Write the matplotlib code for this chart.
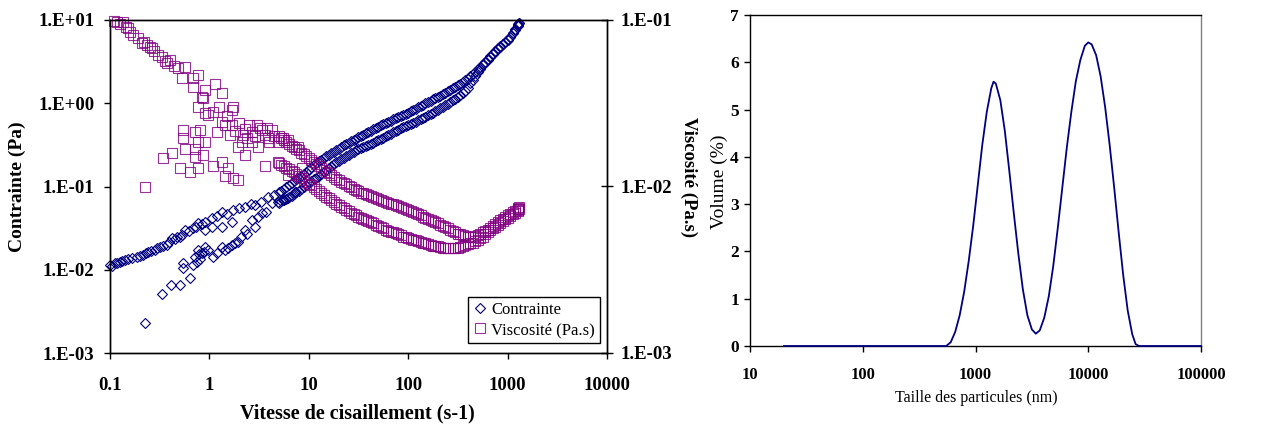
import numpy as np
import matplotlib
matplotlib.use('Agg')
import matplotlib.pyplot as plt
from matplotlib.ticker import FixedLocator, FixedFormatter, NullLocator

plt.rcParams['font.family'] = ['Liberation Serif', 'DejaVu Serif']

# ---- left chart: rheology ----
# dense part of the two sweeps (rate in s-1), read on two staggered rate grids
band_rate = [5.0, 5.6, 6.3, 7.1, 7.9, 8.9, 10, 11.2, 12.6, 14.1, 15.8, 17.8, 20, 22.4, 25.1,
             28.2, 31.6, 35.5, 39.8, 44.7, 50.1, 56.2, 63.1, 70.8, 79.4, 89.1, 100, 112, 126,
             141, 158, 178, 200, 224, 251, 282, 316, 355, 398, 447, 501, 562, 631, 708, 794,
             891, 1000, 1122, 1259, 1300]
stress_up = [0.085, 0.094, 0.104, 0.116, 0.128, 0.143, 0.160, 0.180, 0.200, 0.220, 0.242, 0.263,
             0.285, 0.312, 0.336, 0.362, 0.39, 0.42, 0.45, 0.485, 0.525, 0.56, 0.60, 0.64, 0.685,
             0.73, 0.77, 0.83, 0.89, 0.96, 1.03, 1.11, 1.19, 1.28, 1.39, 1.51, 1.65, 1.80, 1.98,
             2.22, 2.55, 2.95, 3.40, 3.95, 4.55, 5.1, 5.8, 6.9, 8.6, 9.3]
stress_down = [0.064, 0.069, 0.074, 0.081, 0.089, 0.099, 0.11, 0.122, 0.135, 0.148, 0.165, 0.185,
               0.201, 0.223, 0.242, 0.261, 0.280, 0.299, 0.318, 0.337, 0.359, 0.385, 0.413, 0.447,
               0.480, 0.518, 0.546, 0.580, 0.622, 0.665, 0.713, 0.770, 0.836, 0.903, 0.988, 1.083,
               1.197, 1.31, 1.52, 1.90, 2.35, 2.85, 3.35, 3.90, 4.50, 5.1, 5.8, 6.9, 8.5, 9.2]
visc_up = [0.0200, 0.0190, 0.0180, 0.0172, 0.0165, 0.0156, 0.0148, 0.0140, 0.0133, 0.0126, 0.0120,
           0.0114, 0.0109, 0.0105, 0.0101, 0.0097, 0.0094, 0.0091, 0.0089, 0.0086, 0.0084, 0.0082,
           0.0080, 0.0078, 0.0076, 0.0074, 0.0072, 0.0070, 0.0068, 0.0066, 0.0064, 0.0062, 0.0060,
           0.0058, 0.0056, 0.0054, 0.0052, 0.0051, 0.0050, 0.0050, 0.0051, 0.0053, 0.0055, 0.0058,
           0.0061, 0.0064, 0.0067, 0.0070, 0.0073, 0.0075]
visc_down = [0.0138, 0.0132, 0.0127, 0.0122, 0.0116, 0.0110, 0.0104, 0.0099, 0.0094, 0.0089, 0.0085,
             0.0081, 0.0077, 0.0074, 0.0071, 0.0068, 0.0066, 0.0064, 0.0062, 0.0060, 0.0058, 0.0056,
             0.0054, 0.0053, 0.0052, 0.0050, 0.0049, 0.0048, 0.0047, 0.0046, 0.0045, 0.0044, 0.0044,
             0.0043, 0.0043, 0.0043, 0.0043, 0.0044, 0.0045, 0.0046, 0.0048, 0.0050, 0.0053, 0.0056,
             0.0059, 0.0062, 0.0065, 0.0068, 0.0071, 0.0073]

band_rate_b = [5.3, 5.95, 6.7, 7.5, 8.4, 9.4, 10.6, 11.9, 13.3, 14.9, 16.8, 18.9, 21.2, 23.7, 26.6,
               29.9, 33.5, 37.6, 42.2, 47.3, 53.1, 59.6, 66.8, 75.0, 84.1, 94.4, 106, 119, 133,
               149, 168, 188, 211, 237, 266, 299, 335, 376, 422, 473, 531, 596, 668, 750, 841,
               944, 1059, 1189, 1280]
stress_up_b = [0.089, 0.099, 0.110, 0.122, 0.135, 0.151, 0.170, 0.190, 0.210, 0.231, 0.252, 0.274,
               0.298, 0.324, 0.349, 0.376, 0.405, 0.435, 0.467, 0.505, 0.542, 0.58, 0.62, 0.662,
               0.707, 0.75, 0.80, 0.86, 0.925, 0.995, 1.07, 1.15, 1.235, 1.335, 1.45, 1.58, 1.72,
               1.89, 2.10, 2.38, 2.74, 3.17, 3.66, 4.24, 4.82, 5.44, 6.33, 7.7, 8.95]
stress_down_b = [0.0665, 0.0715, 0.0775, 0.085, 0.094, 0.104, 0.116, 0.128, 0.141, 0.156, 0.175,
                 0.198, 0.212, 0.233, 0.252, 0.271, 0.290, 0.309, 0.328, 0.348, 0.371, 0.399, 0.429,
                 0.463, 0.499, 0.532, 0.562, 0.600, 0.643, 0.689, 0.741, 0.803, 0.869, 0.945, 1.036,
                 1.14, 1.254, 1.42, 1.73, 2.11, 2.59, 3.09, 3.62, 4.19, 4.79, 5.44, 6.33, 7.66, 8.85]
visc_up_b = [0.0195, 0.0185, 0.0176, 0.0168, 0.0160, 0.0152, 0.0144, 0.0136, 0.0129, 0.0123, 0.0117,
             0.0111, 0.0107, 0.0103, 0.0099, 0.0095, 0.0092, 0.0090, 0.00875, 0.0085, 0.0083,
             0.0081, 0.0079, 0.0077, 0.0075, 0.0073, 0.0071, 0.0069, 0.0067, 0.0065, 0.0063,
             0.0061, 0.0059, 0.0057, 0.0055, 0.0053, 0.00515, 0.00505, 0.0050, 0.00505, 0.0052,
             0.0054, 0.00565, 0.00595, 0.00625, 0.00655, 0.00685, 0.00715, 0.0074]
visc_down_b = [0.0135, 0.01295, 0.01245, 0.0119, 0.0113, 0.0107, 0.01015, 0.00965, 0.00915, 0.0087,
               0.0083, 0.0079, 0.00755, 0.00725, 0.00695, 0.0067, 0.0065, 0.0063, 0.0061, 0.0059,
               0.0057, 0.0055, 0.00535, 0.00525, 0.0051, 0.00495, 0.00485, 0.00475, 0.00465,
               0.00455, 0.00445, 0.0044, 0.00435, 0.0043, 0.0043, 0.0043, 0.00435, 0.00445,
               0.00455, 0.0047, 0.0049, 0.00515, 0.00545, 0.00575, 0.00605, 0.00635, 0.00665,
               0.00695, 0.0072]

# noisy low-rate part
stress_trail_rate = [0.100, 0.105, 0.112, 0.118, 0.126, 0.133, 0.141, 0.152, 0.166, 0.186, 0.200,
                     0.216, 0.230, 0.243, 0.260, 0.284, 0.300, 0.318, 0.340, 0.371, 0.390, 0.417,
                     0.450, 0.470, 0.506, 0.530, 0.569, 0.620, 0.689, 0.730, 0.773, 0.850, 0.903,
                     1.05, 1.20, 1.33, 1.50, 1.74, 2.00, 2.30, 2.60, 2.88, 3.30, 3.92, 4.50]
stress_trail = [0.0114, 0.0112, 0.0119, 0.0121, 0.0125, 0.0128, 0.0131, 0.0134, 0.0137, 0.0144,
                0.0146, 0.0150, 0.0158, 0.0165, 0.0168, 0.0173, 0.0180, 0.0189, 0.0195, 0.0198,
                0.0215, 0.0238, 0.0232, 0.0250, 0.0249, 0.0265, 0.0300, 0.0290, 0.0314, 0.0330,
                0.0360, 0.0350, 0.0378, 0.0414, 0.0440, 0.0498, 0.0470, 0.0520, 0.0550, 0.0570,
                0.0620, 0.0600, 0.0660, 0.0755, 0.0800]
stress_scat_rate = [0.225, 0.336, 0.411, 0.506, 0.638, 0.545, 0.545, 0.689, 0.716, 0.773, 0.835,
                    0.903, 0.975, 1.09, 1.33, 1.44, 1.68, 1.95, 0.903, 1.05, 1.33, 1.68, 2.28, 2.66,
                    3.36, 4.24, 4.93, 6.22, 7.26, 0.75, 0.80, 0.78, 0.88, 1.20, 1.55, 1.80, 2.10,
                    2.40, 2.90, 3.10, 3.70, 5.50]
stress_scat = [0.00228, 0.00512, 0.00656, 0.00656, 0.0079, 0.0104, 0.0119, 0.0114, 0.0144, 0.0173,
               0.0157, 0.0189, 0.0173, 0.0144, 0.0189, 0.0173, 0.0198, 0.0217, 0.030, 0.0329,
               0.0329, 0.0378, 0.030, 0.0396, 0.0475, 0.0626, 0.0656, 0.072, 0.0865, 0.0125,
               0.0135, 0.0155, 0.0165, 0.016, 0.0185, 0.021, 0.025, 0.027, 0.033, 0.043, 0.05, 0.068]

visc_trail_rate = [0.110, 0.117, 0.125, 0.136, 0.145, 0.153, 0.160, 0.172, 0.190, 0.208, 0.220,
                   0.234, 0.250, 0.263, 0.280, 0.306, 0.330, 0.360, 0.371, 0.402, 0.440, 0.487,
                   0.526, 0.569, 0.689, 0.689, 0.773, 0.869, 0.903, 1.14, 1.33, 0.773, 1.74, 1.68]
visc_trail = [0.098, 0.097, 0.094, 0.0977, 0.091, 0.089, 0.085, 0.081, 0.078, 0.0724, 0.074, 0.0708,
              0.069, 0.0676, 0.065, 0.0617, 0.060, 0.057, 0.055, 0.0575, 0.053, 0.0512, 0.0447,
              0.0525, 0.0447, 0.0398, 0.0468, 0.0339, 0.038, 0.041, 0.0363, 0.0302, 0.0302, 0.0288]
visc_mid_rate = [0.975, 0.903, 0.835, 1.09, 1.33, 1.44, 1.68, 1.62, 1.18, 2.66, 3.36, 4.24, 3.92,
                 4.93, 6.22, 7.83, 2.11, 2.66, 1.95, 3.09, 2.0, 2.3, 2.5, 2.9, 3.2, 3.6, 4.5, 5.5,
                 2.2, 1.8, 1.5, 1.25, 2.4, 3.0, 3.8, 4.0]
visc_mid = [0.0269, 0.0275, 0.0346, 0.0281, 0.0245, 0.0234, 0.0234, 0.0204, 0.0213, 0.0213, 0.0218,
            0.0218, 0.0195, 0.0186, 0.019, 0.0173, 0.0186, 0.0186, 0.0173, 0.0173, 0.024, 0.022,
            0.0235, 0.020, 0.0225, 0.0205, 0.020, 0.0195, 0.0205, 0.0215, 0.0265, 0.030, 0.0195,
            0.0235, 0.0225, 0.0185]
visc_low_rate = [0.225, 0.343, 0.417, 0.506, 0.638, 0.773, 1.09, 1.33, 1.55, 1.44, 1.74, 1.95,
                 0.545, 0.545, 0.716, 0.803, 0.773, 0.903, 0.569, 0.716, 0.869, 0.716, 2.28, 3.63,
                 4.93, 6.22, 8.47]
visc_low = [0.00989, 0.0148, 0.0158, 0.0129, 0.0123, 0.0129, 0.0132, 0.0141, 0.0129, 0.0115,
            0.0112, 0.0109, 0.0218, 0.0195, 0.0213, 0.0218, 0.0186, 0.0186, 0.0169, 0.0169,
            0.0155, 0.0151, 0.0155, 0.0132, 0.0141, 0.0117, 0.0129]

x_ticks_l = [0.1, 1, 10, 100, 1000, 10000]
x_labels_l = ['0.1', '1', '10', '100', '1000', '10000']
y_ticks_l = [1e-3, 1e-2, 1e-1, 1, 10]
y_labels_l = ['1.E-03', '1.E-02', '1.E-01', '1.E+00', '1.E+01']
y_ticks_r = [1e-3, 1e-2, 1e-1]
y_labels_r = ['1.E-03', '1.E-02', '1.E-01']

# ---- right chart: particle size distribution ----
size_nm = [20, 50, 100, 200, 300, 400, 500, 550, 603, 661, 724, 794, 871, 955, 1047, 1148, 1259,
           1380, 1445, 1514, 1660, 1820, 1995, 2188, 2399, 2630, 2884, 3162, 3428, 3715, 4074,
           4467, 4898, 5370, 5888, 6457, 7079, 7762, 8511, 9333, 10000, 10715, 11749, 12882,
           14125, 15488, 16982, 18621, 20417, 22387, 24547, 26303, 28184, 35000, 50000, 70000,
           100000]
volume = [0, 0, 0, 0, 0, 0, 0, 0.00, 0.08, 0.30, 0.65, 1.15, 1.80, 2.55, 3.40, 4.25, 4.95, 5.45,
          5.59, 5.55, 5.20, 4.55, 3.70, 2.80, 1.95, 1.20, 0.65, 0.35, 0.26, 0.33, 0.60, 1.05, 1.70,
          2.50, 3.35, 4.20, 4.95, 5.60, 6.05, 6.35, 6.42, 6.38, 6.15, 5.70, 5.05, 4.25, 3.35, 2.40,
          1.50, 0.75, 0.25, 0.04, 0.00, 0, 0, 0, 0]
x_ticks_r = [10, 100, 1000, 10000, 100000]
x_labels_r = ['10', '100', '1000', '10000', '100000']

navy = '#000080'
purple = '#800080'

fig = plt.figure(figsize=(12.75, 4.26), dpi=100)

ax = fig.add_axes([110/1275, 73/426, 497/1275, 333/426])
ax.set_xscale('log')
ax.set_yscale('log')
ax.set_xlim(0.1, 10000)
ax.set_ylim(1e-3, 10)

st_rate = stress_trail_rate + stress_scat_rate + band_rate + band_rate_b + band_rate + band_rate_b
st_val = stress_trail + stress_scat + stress_up + stress_up_b + stress_down + stress_down_b
h1, = ax.plot(st_rate, st_val, linestyle='none', marker='D', markersize=4.9,
              markerfacecolor='none', markeredgecolor=navy, markeredgewidth=0.8,
              clip_on=False, label='Contrainte')

ax2 = ax.twinx()
ax2.set_yscale('log')
ax2.set_ylim(1e-3, 1e-1)
vi_rate = visc_trail_rate + visc_mid_rate + visc_low_rate + band_rate + band_rate_b + band_rate + band_rate_b
vi_val = visc_trail + visc_mid + visc_low + visc_up + visc_up_b + visc_down + visc_down_b
h2, = ax2.plot(vi_rate, vi_val, linestyle='none', marker='s', markersize=7.0,
               markerfacecolor='none', markeredgecolor=purple, markeredgewidth=0.8,
               alpha=0.8, clip_on=False, label='Viscosité (Pa.s)')

ax.xaxis.set_major_locator(FixedLocator(x_ticks_l))
ax.xaxis.set_major_formatter(FixedFormatter(x_labels_l))
ax.xaxis.set_minor_locator(NullLocator())
ax.yaxis.set_major_locator(FixedLocator(y_ticks_l))
ax.yaxis.set_major_formatter(FixedFormatter(y_labels_l))
ax.yaxis.set_minor_locator(NullLocator())
ax2.yaxis.set_major_locator(FixedLocator(y_ticks_r))
ax2.yaxis.set_major_formatter(FixedFormatter(y_labels_r))
ax2.yaxis.set_minor_locator(NullLocator())

for a in (ax, ax2):
    for s in a.spines.values():
        s.set_color('black')
        s.set_linewidth(1.0)
ax.tick_params(axis='x', direction='out', length=4, width=1, pad=13, labelsize=13.5)
ax.tick_params(axis='y', direction='out', length=4, width=1, pad=7.3, labelsize=13.5)
ax2.tick_params(axis='y', direction='inout', length=8, width=1, pad=5.5, labelsize=13.5)
for lab in ax.get_xticklabels() + ax.get_yticklabels() + ax2.get_yticklabels():
    lab.set_fontweight('bold')

leg = ax.legend([h1, h2], ['Contrainte', 'Viscosité (Pa.s)'], loc='lower right',
                bbox_to_anchor=(0.986, 0.03), borderaxespad=0, fancybox=False,
                edgecolor='black', framealpha=1, fontsize=12, handlelength=0.8,
                handletextpad=0.3, borderpad=0.3, labelspacing=0.25)
leg.get_frame().set_linewidth(1.0)
leg.remove()
ax2.add_artist(leg)

fig.text(17/1275, 1 - 187/426, 'Contrainte (Pa)', rotation=90, ha='center', va='center',
         fontsize=14, fontweight='bold')
fig.text(689/1275, 1 - 177/426, 'Viscosité (Pa.s)', rotation=-90, ha='center', va='center',
         fontsize=13.5, fontweight='bold')
fig.text(357/1275, 1 - 413/426, 'Vitesse de cisaillement (s-1)', ha='center', va='center',
         fontsize=14.5, fontweight='bold')

# right chart
bx = fig.add_axes([750/1275, 80/426, 451/1275, 331/426])
bx.set_xscale('log')
bx.set_xlim(10, 100000)
bx.set_ylim(0, 7)
bx.plot(size_nm, volume, color=navy, linewidth=1.3, clip_on=False, zorder=5)
bx.xaxis.set_major_locator(FixedLocator(x_ticks_r))
bx.xaxis.set_major_formatter(FixedFormatter(x_labels_r))
bx.xaxis.set_minor_locator(NullLocator())
bx.set_yticks(range(0, 8))
for s in bx.spines.values():
    s.set_color('black')
    s.set_linewidth(1.0)
bx.spines['right'].set_color('#808080')
bx.tick_params(axis='x', direction='out', length=4, width=1, pad=11, labelsize=12)
bx.tick_params(axis='y', direction='out', length=4, width=1, pad=4, labelsize=12.5)
for lab in bx.get_xticklabels() + bx.get_yticklabels():
    lab.set_fontweight('bold')

fig.text(976/1275, 1 - 398/426, 'Taille des particules (nm)', ha='center', va='center',
         fontsize=11.5)
fig.text(719/1275, 1 - 182/426, 'Volume (%)', rotation=90, ha='center', va='center',
         fontsize=14)

fig.savefig('out.png', dpi=100)
